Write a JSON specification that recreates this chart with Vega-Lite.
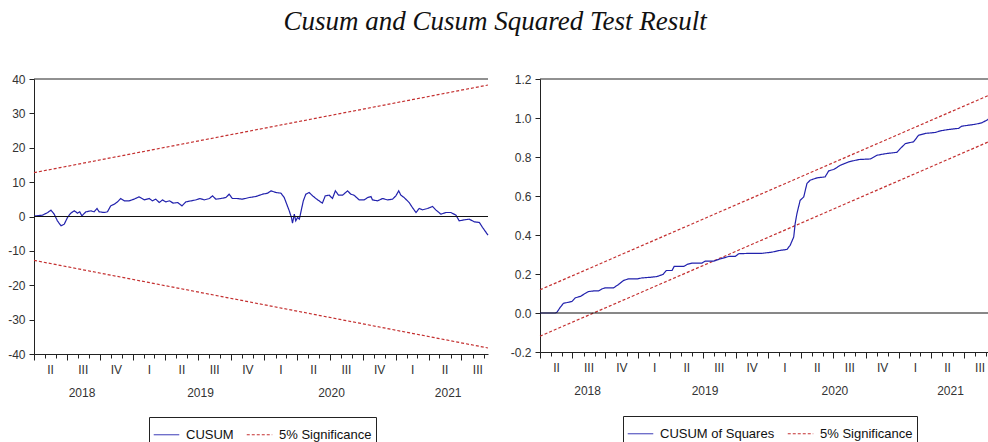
{
  "$schema": "https://vega.github.io/schema/vega-lite/v6.json",
  "background": "white",
  "padding": {"left": 7, "top": 8, "right": 0, "bottom": 0},
  "title": {"text": "Cusum and Cusum Squared Test Result", "font": "Liberation Serif", "fontSize": 27, "fontStyle": "italic", "fontWeight": "normal", "color": "#111111", "offset": 37, "anchor": "middle", "dx": -5},
  "spacing": 19,
  "resolve": {"scale": {"color": "independent", "strokeDash": "independent"}, "legend": {"color": "independent", "strokeDash": "independent"}},
  "config": {
    "view": {"stroke": null},
    "axis": {"labelFont": "Liberation Sans", "labelFontSize": 12, "labelColor": "#333333", "domainColor": "#222222", "tickColor": "#222222", "grid": false, "title": null},
    "legend": {"orient": "none", "direction": "horizontal", "title": null, "symbolType": "stroke", "symbolSize": 650, "symbolStrokeWidth": 1, "labelFont": "Liberation Sans", "labelFontSize": 13, "labelColor": "#111111", "strokeColor": "#222222", "fillColor": "white", "padding": 4, "columnPadding": 10, "labelOffset": 6}
  },
  "datasets": {
    "left": [
      {"date": "2018-04-01", "value": 12.75, "series": "5% Significance", "part": "upper"},
      {"date": "2021-09-13", "value": 38.25, "series": "5% Significance", "part": "upper"},
      {"date": "2018-04-01", "value": -12.75, "series": "5% Significance", "part": "lower"},
      {"date": "2021-09-13", "value": -38.25, "series": "5% Significance", "part": "lower"},
      {"date": "2018-04-01", "value": 0.1, "series": "CUSUM", "part": "c"},
      {"date": "2018-04-06", "value": 0.19, "series": "CUSUM", "part": "c"},
      {"date": "2018-04-25", "value": 0.39, "series": "CUSUM", "part": "c"},
      {"date": "2018-05-09", "value": 1.16, "series": "CUSUM", "part": "c"},
      {"date": "2018-05-18", "value": 1.84, "series": "CUSUM", "part": "c"},
      {"date": "2018-05-27", "value": 0.68, "series": "CUSUM", "part": "c"},
      {"date": "2018-06-05", "value": -1.26, "series": "CUSUM", "part": "c"},
      {"date": "2018-06-15", "value": -2.71, "series": "CUSUM", "part": "c"},
      {"date": "2018-06-24", "value": -2.23, "series": "CUSUM", "part": "c"},
      {"date": "2018-07-03", "value": -0.29, "series": "CUSUM", "part": "c"},
      {"date": "2018-07-12", "value": 0.97, "series": "CUSUM", "part": "c"},
      {"date": "2018-07-22", "value": 1.65, "series": "CUSUM", "part": "c"},
      {"date": "2018-07-31", "value": 0.97, "series": "CUSUM", "part": "c"},
      {"date": "2018-08-06", "value": 1.36, "series": "CUSUM", "part": "c"},
      {"date": "2018-08-12", "value": 0.19, "series": "CUSUM", "part": "c"},
      {"date": "2018-08-23", "value": 1.36, "series": "CUSUM", "part": "c"},
      {"date": "2018-09-06", "value": 1.65, "series": "CUSUM", "part": "c"},
      {"date": "2018-09-15", "value": 1.36, "series": "CUSUM", "part": "c"},
      {"date": "2018-09-23", "value": 2.33, "series": "CUSUM", "part": "c"},
      {"date": "2018-09-29", "value": 1.36, "series": "CUSUM", "part": "c"},
      {"date": "2018-10-13", "value": 1.16, "series": "CUSUM", "part": "c"},
      {"date": "2018-10-22", "value": 1.36, "series": "CUSUM", "part": "c"},
      {"date": "2018-10-31", "value": 3.1, "series": "CUSUM", "part": "c"},
      {"date": "2018-11-10", "value": 3.59, "series": "CUSUM", "part": "c"},
      {"date": "2018-11-19", "value": 4.26, "series": "CUSUM", "part": "c"},
      {"date": "2018-11-28", "value": 5.23, "series": "CUSUM", "part": "c"},
      {"date": "2018-12-08", "value": 4.55, "series": "CUSUM", "part": "c"},
      {"date": "2018-12-21", "value": 4.55, "series": "CUSUM", "part": "c"},
      {"date": "2019-01-04", "value": 5.04, "series": "CUSUM", "part": "c"},
      {"date": "2019-01-18", "value": 5.72, "series": "CUSUM", "part": "c"},
      {"date": "2019-02-01", "value": 4.84, "series": "CUSUM", "part": "c"},
      {"date": "2019-02-15", "value": 5.23, "series": "CUSUM", "part": "c"},
      {"date": "2019-02-24", "value": 4.55, "series": "CUSUM", "part": "c"},
      {"date": "2019-03-05", "value": 5.04, "series": "CUSUM", "part": "c"},
      {"date": "2019-03-15", "value": 4.07, "series": "CUSUM", "part": "c"},
      {"date": "2019-03-24", "value": 4.84, "series": "CUSUM", "part": "c"},
      {"date": "2019-04-02", "value": 4.26, "series": "CUSUM", "part": "c"},
      {"date": "2019-04-12", "value": 4.55, "series": "CUSUM", "part": "c"},
      {"date": "2019-04-23", "value": 3.88, "series": "CUSUM", "part": "c"},
      {"date": "2019-05-05", "value": 4.07, "series": "CUSUM", "part": "c"},
      {"date": "2019-05-17", "value": 3.1, "series": "CUSUM", "part": "c"},
      {"date": "2019-05-28", "value": 4.26, "series": "CUSUM", "part": "c"},
      {"date": "2019-06-11", "value": 4.55, "series": "CUSUM", "part": "c"},
      {"date": "2019-06-25", "value": 4.84, "series": "CUSUM", "part": "c"},
      {"date": "2019-07-06", "value": 5.23, "series": "CUSUM", "part": "c"},
      {"date": "2019-07-18", "value": 4.84, "series": "CUSUM", "part": "c"},
      {"date": "2019-08-01", "value": 5.23, "series": "CUSUM", "part": "c"},
      {"date": "2019-08-10", "value": 6.01, "series": "CUSUM", "part": "c"},
      {"date": "2019-08-19", "value": 5.04, "series": "CUSUM", "part": "c"},
      {"date": "2019-09-02", "value": 5.23, "series": "CUSUM", "part": "c"},
      {"date": "2019-09-16", "value": 5.52, "series": "CUSUM", "part": "c"},
      {"date": "2019-09-25", "value": 6.49, "series": "CUSUM", "part": "c"},
      {"date": "2019-10-04", "value": 5.23, "series": "CUSUM", "part": "c"},
      {"date": "2019-10-18", "value": 5.23, "series": "CUSUM", "part": "c"},
      {"date": "2019-11-01", "value": 5.04, "series": "CUSUM", "part": "c"},
      {"date": "2019-11-20", "value": 5.52, "series": "CUSUM", "part": "c"},
      {"date": "2019-12-08", "value": 5.81, "series": "CUSUM", "part": "c"},
      {"date": "2019-12-27", "value": 6.49, "series": "CUSUM", "part": "c"},
      {"date": "2020-01-10", "value": 6.78, "series": "CUSUM", "part": "c"},
      {"date": "2020-01-19", "value": 7.46, "series": "CUSUM", "part": "c"},
      {"date": "2020-02-02", "value": 6.98, "series": "CUSUM", "part": "c"},
      {"date": "2020-02-16", "value": 6.78, "series": "CUSUM", "part": "c"},
      {"date": "2020-02-25", "value": 5.52, "series": "CUSUM", "part": "c"},
      {"date": "2020-03-03", "value": 3.59, "series": "CUSUM", "part": "c"},
      {"date": "2020-03-10", "value": 1.65, "series": "CUSUM", "part": "c"},
      {"date": "2020-03-16", "value": -0.29, "series": "CUSUM", "part": "c"},
      {"date": "2020-03-19", "value": -1.94, "series": "CUSUM", "part": "c"},
      {"date": "2020-03-24", "value": 0.68, "series": "CUSUM", "part": "c"},
      {"date": "2020-03-28", "value": -1.26, "series": "CUSUM", "part": "c"},
      {"date": "2020-04-02", "value": -0.29, "series": "CUSUM", "part": "c"},
      {"date": "2020-04-07", "value": -0.78, "series": "CUSUM", "part": "c"},
      {"date": "2020-04-11", "value": 1.16, "series": "CUSUM", "part": "c"},
      {"date": "2020-04-18", "value": 4.55, "series": "CUSUM", "part": "c"},
      {"date": "2020-04-25", "value": 6.49, "series": "CUSUM", "part": "c"},
      {"date": "2020-05-04", "value": 6.98, "series": "CUSUM", "part": "c"},
      {"date": "2020-05-14", "value": 6.01, "series": "CUSUM", "part": "c"},
      {"date": "2020-05-23", "value": 5.23, "series": "CUSUM", "part": "c"},
      {"date": "2020-06-01", "value": 4.55, "series": "CUSUM", "part": "c"},
      {"date": "2020-06-10", "value": 3.88, "series": "CUSUM", "part": "c"},
      {"date": "2020-06-18", "value": 6.01, "series": "CUSUM", "part": "c"},
      {"date": "2020-06-29", "value": 6.2, "series": "CUSUM", "part": "c"},
      {"date": "2020-07-08", "value": 5.23, "series": "CUSUM", "part": "c"},
      {"date": "2020-07-16", "value": 7.46, "series": "CUSUM", "part": "c"},
      {"date": "2020-07-25", "value": 6.2, "series": "CUSUM", "part": "c"},
      {"date": "2020-08-05", "value": 6.2, "series": "CUSUM", "part": "c"},
      {"date": "2020-08-19", "value": 7.46, "series": "CUSUM", "part": "c"},
      {"date": "2020-08-28", "value": 6.49, "series": "CUSUM", "part": "c"},
      {"date": "2020-09-06", "value": 6.2, "series": "CUSUM", "part": "c"},
      {"date": "2020-09-20", "value": 4.84, "series": "CUSUM", "part": "c"},
      {"date": "2020-10-04", "value": 4.84, "series": "CUSUM", "part": "c"},
      {"date": "2020-10-14", "value": 5.52, "series": "CUSUM", "part": "c"},
      {"date": "2020-10-23", "value": 5.81, "series": "CUSUM", "part": "c"},
      {"date": "2020-10-27", "value": 4.84, "series": "CUSUM", "part": "c"},
      {"date": "2020-11-10", "value": 4.55, "series": "CUSUM", "part": "c"},
      {"date": "2020-11-24", "value": 5.23, "series": "CUSUM", "part": "c"},
      {"date": "2020-12-08", "value": 4.84, "series": "CUSUM", "part": "c"},
      {"date": "2020-12-22", "value": 5.04, "series": "CUSUM", "part": "c"},
      {"date": "2020-12-31", "value": 6.01, "series": "CUSUM", "part": "c"},
      {"date": "2021-01-08", "value": 7.46, "series": "CUSUM", "part": "c"},
      {"date": "2021-01-14", "value": 6.2, "series": "CUSUM", "part": "c"},
      {"date": "2021-01-23", "value": 5.52, "series": "CUSUM", "part": "c"},
      {"date": "2021-02-06", "value": 4.07, "series": "CUSUM", "part": "c"},
      {"date": "2021-02-15", "value": 2.62, "series": "CUSUM", "part": "c"},
      {"date": "2021-02-25", "value": 1.16, "series": "CUSUM", "part": "c"},
      {"date": "2021-03-06", "value": 2.33, "series": "CUSUM", "part": "c"},
      {"date": "2021-03-15", "value": 1.94, "series": "CUSUM", "part": "c"},
      {"date": "2021-03-29", "value": 2.33, "series": "CUSUM", "part": "c"},
      {"date": "2021-04-12", "value": 2.91, "series": "CUSUM", "part": "c"},
      {"date": "2021-04-21", "value": 1.94, "series": "CUSUM", "part": "c"},
      {"date": "2021-05-05", "value": 0.68, "series": "CUSUM", "part": "c"},
      {"date": "2021-05-19", "value": 1.16, "series": "CUSUM", "part": "c"},
      {"date": "2021-06-02", "value": 1.16, "series": "CUSUM", "part": "c"},
      {"date": "2021-06-16", "value": 0.39, "series": "CUSUM", "part": "c"},
      {"date": "2021-06-25", "value": -1.26, "series": "CUSUM", "part": "c"},
      {"date": "2021-07-09", "value": -0.97, "series": "CUSUM", "part": "c"},
      {"date": "2021-07-23", "value": -0.78, "series": "CUSUM", "part": "c"},
      {"date": "2021-08-06", "value": -1.55, "series": "CUSUM", "part": "c"},
      {"date": "2021-08-20", "value": -1.74, "series": "CUSUM", "part": "c"},
      {"date": "2021-08-29", "value": -3.2, "series": "CUSUM", "part": "c"},
      {"date": "2021-09-13", "value": -5.43, "series": "CUSUM", "part": "c"}
    ],
    "right": [
      {"date": "2018-04-01", "value": 0.119, "series": "5% Significance", "part": "upper"},
      {"date": "2021-09-13", "value": 1.119, "series": "5% Significance", "part": "upper"},
      {"date": "2018-04-01", "value": -0.119, "series": "5% Significance", "part": "lower"},
      {"date": "2021-09-13", "value": 0.881, "series": "5% Significance", "part": "lower"},
      {"date": "2018-04-01", "value": 0, "series": "CUSUM of Squares", "part": "c"},
      {"date": "2018-05-14", "value": 0, "series": "CUSUM of Squares", "part": "c"},
      {"date": "2018-05-19", "value": 0.005, "series": "CUSUM of Squares", "part": "c"},
      {"date": "2018-05-28", "value": 0.03, "series": "CUSUM of Squares", "part": "c"},
      {"date": "2018-06-06", "value": 0.05, "series": "CUSUM of Squares", "part": "c"},
      {"date": "2018-06-20", "value": 0.055, "series": "CUSUM of Squares", "part": "c"},
      {"date": "2018-06-30", "value": 0.06, "series": "CUSUM of Squares", "part": "c"},
      {"date": "2018-07-09", "value": 0.078, "series": "CUSUM of Squares", "part": "c"},
      {"date": "2018-07-23", "value": 0.085, "series": "CUSUM of Squares", "part": "c"},
      {"date": "2018-08-01", "value": 0.095, "series": "CUSUM of Squares", "part": "c"},
      {"date": "2018-08-15", "value": 0.11, "series": "CUSUM of Squares", "part": "c"},
      {"date": "2018-08-29", "value": 0.113, "series": "CUSUM of Squares", "part": "c"},
      {"date": "2018-09-12", "value": 0.113, "series": "CUSUM of Squares", "part": "c"},
      {"date": "2018-09-22", "value": 0.124, "series": "CUSUM of Squares", "part": "c"},
      {"date": "2018-10-01", "value": 0.129, "series": "CUSUM of Squares", "part": "c"},
      {"date": "2018-10-24", "value": 0.129, "series": "CUSUM of Squares", "part": "c"},
      {"date": "2018-11-07", "value": 0.146, "series": "CUSUM of Squares", "part": "c"},
      {"date": "2018-11-21", "value": 0.167, "series": "CUSUM of Squares", "part": "c"},
      {"date": "2018-12-05", "value": 0.175, "series": "CUSUM of Squares", "part": "c"},
      {"date": "2018-12-29", "value": 0.175, "series": "CUSUM of Squares", "part": "c"},
      {"date": "2019-01-12", "value": 0.18, "series": "CUSUM of Squares", "part": "c"},
      {"date": "2019-02-04", "value": 0.183, "series": "CUSUM of Squares", "part": "c"},
      {"date": "2019-02-23", "value": 0.187, "series": "CUSUM of Squares", "part": "c"},
      {"date": "2019-03-12", "value": 0.198, "series": "CUSUM of Squares", "part": "c"},
      {"date": "2019-03-21", "value": 0.218, "series": "CUSUM of Squares", "part": "c"},
      {"date": "2019-04-06", "value": 0.218, "series": "CUSUM of Squares", "part": "c"},
      {"date": "2019-04-12", "value": 0.239, "series": "CUSUM of Squares", "part": "c"},
      {"date": "2019-05-09", "value": 0.239, "series": "CUSUM of Squares", "part": "c"},
      {"date": "2019-05-18", "value": 0.249, "series": "CUSUM of Squares", "part": "c"},
      {"date": "2019-06-01", "value": 0.256, "series": "CUSUM of Squares", "part": "c"},
      {"date": "2019-06-29", "value": 0.256, "series": "CUSUM of Squares", "part": "c"},
      {"date": "2019-07-08", "value": 0.266, "series": "CUSUM of Squares", "part": "c"},
      {"date": "2019-08-01", "value": 0.266, "series": "CUSUM of Squares", "part": "c"},
      {"date": "2019-08-15", "value": 0.275, "series": "CUSUM of Squares", "part": "c"},
      {"date": "2019-09-12", "value": 0.29, "series": "CUSUM of Squares", "part": "c"},
      {"date": "2019-09-30", "value": 0.29, "series": "CUSUM of Squares", "part": "c"},
      {"date": "2019-10-10", "value": 0.304, "series": "CUSUM of Squares", "part": "c"},
      {"date": "2019-11-11", "value": 0.306, "series": "CUSUM of Squares", "part": "c"},
      {"date": "2019-12-14", "value": 0.306, "series": "CUSUM of Squares", "part": "c"},
      {"date": "2020-01-11", "value": 0.312, "series": "CUSUM of Squares", "part": "c"},
      {"date": "2020-01-30", "value": 0.32, "series": "CUSUM of Squares", "part": "c"},
      {"date": "2020-02-22", "value": 0.326, "series": "CUSUM of Squares", "part": "c"},
      {"date": "2020-03-02", "value": 0.347, "series": "CUSUM of Squares", "part": "c"},
      {"date": "2020-03-12", "value": 0.39, "series": "CUSUM of Squares", "part": "c"},
      {"date": "2020-03-16", "value": 0.458, "series": "CUSUM of Squares", "part": "c"},
      {"date": "2020-03-21", "value": 0.51, "series": "CUSUM of Squares", "part": "c"},
      {"date": "2020-03-30", "value": 0.578, "series": "CUSUM of Squares", "part": "c"},
      {"date": "2020-04-09", "value": 0.595, "series": "CUSUM of Squares", "part": "c"},
      {"date": "2020-04-18", "value": 0.664, "series": "CUSUM of Squares", "part": "c"},
      {"date": "2020-04-27", "value": 0.681, "series": "CUSUM of Squares", "part": "c"},
      {"date": "2020-05-16", "value": 0.693, "series": "CUSUM of Squares", "part": "c"},
      {"date": "2020-06-08", "value": 0.698, "series": "CUSUM of Squares", "part": "c"},
      {"date": "2020-06-18", "value": 0.729, "series": "CUSUM of Squares", "part": "c"},
      {"date": "2020-07-02", "value": 0.736, "series": "CUSUM of Squares", "part": "c"},
      {"date": "2020-07-21", "value": 0.758, "series": "CUSUM of Squares", "part": "c"},
      {"date": "2020-08-13", "value": 0.775, "series": "CUSUM of Squares", "part": "c"},
      {"date": "2020-09-10", "value": 0.787, "series": "CUSUM of Squares", "part": "c"},
      {"date": "2020-10-13", "value": 0.79, "series": "CUSUM of Squares", "part": "c"},
      {"date": "2020-10-31", "value": 0.809, "series": "CUSUM of Squares", "part": "c"},
      {"date": "2020-11-28", "value": 0.818, "series": "CUSUM of Squares", "part": "c"},
      {"date": "2020-12-26", "value": 0.824, "series": "CUSUM of Squares", "part": "c"},
      {"date": "2021-01-05", "value": 0.844, "series": "CUSUM of Squares", "part": "c"},
      {"date": "2021-01-19", "value": 0.869, "series": "CUSUM of Squares", "part": "c"},
      {"date": "2021-02-11", "value": 0.878, "series": "CUSUM of Squares", "part": "c"},
      {"date": "2021-02-25", "value": 0.912, "series": "CUSUM of Squares", "part": "c"},
      {"date": "2021-03-16", "value": 0.921, "series": "CUSUM of Squares", "part": "c"},
      {"date": "2021-04-13", "value": 0.926, "series": "CUSUM of Squares", "part": "c"},
      {"date": "2021-04-27", "value": 0.934, "series": "CUSUM of Squares", "part": "c"},
      {"date": "2021-05-20", "value": 0.941, "series": "CUSUM of Squares", "part": "c"},
      {"date": "2021-06-17", "value": 0.947, "series": "CUSUM of Squares", "part": "c"},
      {"date": "2021-06-26", "value": 0.958, "series": "CUSUM of Squares", "part": "c"},
      {"date": "2021-08-03", "value": 0.968, "series": "CUSUM of Squares", "part": "c"},
      {"date": "2021-08-21", "value": 0.975, "series": "CUSUM of Squares", "part": "c"},
      {"date": "2021-09-04", "value": 0.989, "series": "CUSUM of Squares", "part": "c"},
      {"date": "2021-09-13", "value": 1.0, "series": "CUSUM of Squares", "part": "c"}
    ]
  },
  "hconcat": [
    {
      "width": 454,
      "height": 275,
      "data": {"name": "left"},
      "resolve": {"scale": {"x": "shared"}, "axis": {"x": "independent"}},
      "layer": [
        {
          "mark": {"type": "line", "strokeWidth": 1.2},
          "encoding": {
            "x": {"field": "date", "type": "temporal",
              "scale": {"type": "utc", "domain": [{"year": 2018, "month": 4, "date": 1, "utc": true}, {"year": 2021, "month": 9, "date": 13, "utc": true}]},
              "axis": {"orient": "bottom", "tickCount": {"interval": "month", "step": 3}, "tickSize": 6, "labelOffset": 16, "labelPadding": 4, "labelOverlap": false, "labelFlush": false, "labelBound": false, "labelExpr": "['I','II','III','IV'][floor(utcmonth(datum.value)/3)]", "domain": true}},
            "y": {"field": "value", "type": "quantitative",
              "scale": {"domain": [-40, 40], "nice": false, "zero": false},
              "axis": {"values": [-40, -30, -20, -10, 0, 10, 20, 30, 40], "tickSize": 5, "labelPadding": 4, "labelOverlap": false, "labelExpr": "replace(format(datum.value, 'd'), '\u2212', '-')"}},
            "color": {"field": "series", "type": "nominal",
              "scale": {"domain": ["CUSUM", "5% Significance"], "range": ["#2222ad", "#c43030"]},
              "legend": {"legendX": 115, "legendY": 338}},
            "strokeDash": {"field": "series", "type": "nominal",
              "scale": {"domain": ["CUSUM", "5% Significance"], "range": [[1, 0], [3, 2]]},
              "legend": {"legendX": 115, "legendY": 338}},
            "detail": {"field": "part", "type": "nominal"}
          }
        },
        {
          "mark": {"type": "rule", "color": "#111111", "strokeWidth": 1},
          "encoding": {
            "x": {"field": "date", "type": "temporal", "aggregate": "min",
              "scale": {"type": "utc", "domain": [{"year": 2018, "month": 4, "date": 1, "utc": true}, {"year": 2021, "month": 9, "date": 13, "utc": true}]},
              "axis": {"orient": "bottom", "tickCount": {"interval": "month", "step": 1}, "tickSize": 4, "labels": false, "domain": false}},
            "x2": {"field": "date", "aggregate": "max"},
            "y": {"datum": 0, "type": "quantitative",
              "axis": {"values": [-40, -30, -20, -10, 0, 10, 20, 30, 40], "tickSize": 5, "labelPadding": 4, "labelOverlap": false, "labelExpr": "replace(format(datum.value, 'd'), '\u2212', '-')"}}
          }
        },
        {
          "mark": {"type": "rule", "color": "#222222", "strokeWidth": 1},
          "encoding": {
            "x": {"field": "date", "type": "temporal", "aggregate": "min",
              "scale": {"type": "utc", "domain": [{"year": 2018, "month": 4, "date": 1, "utc": true}, {"year": 2021, "month": 9, "date": 13, "utc": true}]},
              "axis": {"orient": "bottom", "values": [{"year": 2018, "month": 8, "date": 11, "utc": true}, {"year": 2019, "month": 7, "date": 6, "utc": true}, {"year": 2020, "month": 7, "date": 4, "utc": true}, {"year": 2021, "month": 5, "date": 24, "utc": true}], "ticks": false, "domain": false, "labelPadding": 33, "labelOverlap": false, "labelFlush": false, "labelExpr": "utcyear(datum.value)"}},
            "x2": {"field": "date", "aggregate": "max"},
            "y": {"datum": 40, "type": "quantitative",
              "axis": {"values": [-40, -30, -20, -10, 0, 10, 20, 30, 40], "tickSize": 5, "labelPadding": 4, "labelOverlap": false, "labelExpr": "replace(format(datum.value, 'd'), '\u2212', '-')"}}
          }
        }
      ]
    },
    {
      "width": 450,
      "height": 273,
      "data": {"name": "right"},
      "resolve": {"scale": {"x": "shared"}, "axis": {"x": "independent"}},
      "layer": [
        {
          "mark": {"type": "line", "strokeWidth": 1.2},
          "encoding": {
            "x": {"field": "date", "type": "temporal",
              "scale": {"type": "utc", "domain": [{"year": 2018, "month": 4, "date": 1, "utc": true}, {"year": 2021, "month": 9, "date": 13, "utc": true}]},
              "axis": {"orient": "bottom", "tickCount": {"interval": "month", "step": 3}, "tickSize": 6, "labelOffset": 16, "labelPadding": 4, "labelOverlap": false, "labelFlush": false, "labelBound": false, "labelExpr": "['I','II','III','IV'][floor(utcmonth(datum.value)/3)]", "domain": true}},
            "y": {"field": "value", "type": "quantitative",
              "scale": {"domain": [-0.2, 1.2], "nice": false, "zero": false},
              "axis": {"values": [-0.2, 0, 0.2, 0.4, 0.6, 0.8, 1.0, 1.2], "tickSize": 5, "labelPadding": 4, "labelOverlap": false, "labelExpr": "replace(format(datum.value, '.1f'), '\u2212', '-')"}},
            "color": {"field": "series", "type": "nominal",
              "scale": {"domain": ["CUSUM of Squares", "5% Significance"], "range": ["#2222ad", "#c43030"]},
              "legend": {"legendX": 83, "legendY": 337}},
            "strokeDash": {"field": "series", "type": "nominal",
              "scale": {"domain": ["CUSUM of Squares", "5% Significance"], "range": [[1, 0], [3, 2]]},
              "legend": {"legendX": 83, "legendY": 337}},
            "detail": {"field": "part", "type": "nominal"}
          }
        },
        {
          "mark": {"type": "rule", "color": "#111111", "strokeWidth": 1},
          "encoding": {
            "x": {"field": "date", "type": "temporal", "aggregate": "min",
              "scale": {"type": "utc", "domain": [{"year": 2018, "month": 4, "date": 1, "utc": true}, {"year": 2021, "month": 9, "date": 13, "utc": true}]},
              "axis": {"orient": "bottom", "tickCount": {"interval": "month", "step": 1}, "tickSize": 4, "labels": false, "domain": false}},
            "x2": {"field": "date", "aggregate": "max"},
            "y": {"datum": 0, "type": "quantitative",
              "axis": {"values": [-0.2, 0, 0.2, 0.4, 0.6, 0.8, 1.0, 1.2], "tickSize": 5, "labelPadding": 4, "labelOverlap": false, "labelExpr": "replace(format(datum.value, '.1f'), '\u2212', '-')"}}
          }
        },
        {
          "mark": {"type": "rule", "color": "#222222", "strokeWidth": 1},
          "encoding": {
            "x": {"field": "date", "type": "temporal", "aggregate": "min",
              "scale": {"type": "utc", "domain": [{"year": 2018, "month": 4, "date": 1, "utc": true}, {"year": 2021, "month": 9, "date": 13, "utc": true}]},
              "axis": {"orient": "bottom", "values": [{"year": 2018, "month": 8, "date": 11, "utc": true}, {"year": 2019, "month": 7, "date": 6, "utc": true}, {"year": 2020, "month": 7, "date": 4, "utc": true}, {"year": 2021, "month": 5, "date": 24, "utc": true}], "ticks": false, "domain": false, "labelPadding": 33, "labelOverlap": false, "labelFlush": false, "labelExpr": "utcyear(datum.value)"}},
            "x2": {"field": "date", "aggregate": "max"},
            "y": {"datum": 1.2, "type": "quantitative",
              "axis": {"values": [-0.2, 0, 0.2, 0.4, 0.6, 0.8, 1.0, 1.2], "tickSize": 5, "labelPadding": 4, "labelOverlap": false, "labelExpr": "replace(format(datum.value, '.1f'), '\u2212', '-')"}}
          }
        }
      ]
    }
  ]
}
